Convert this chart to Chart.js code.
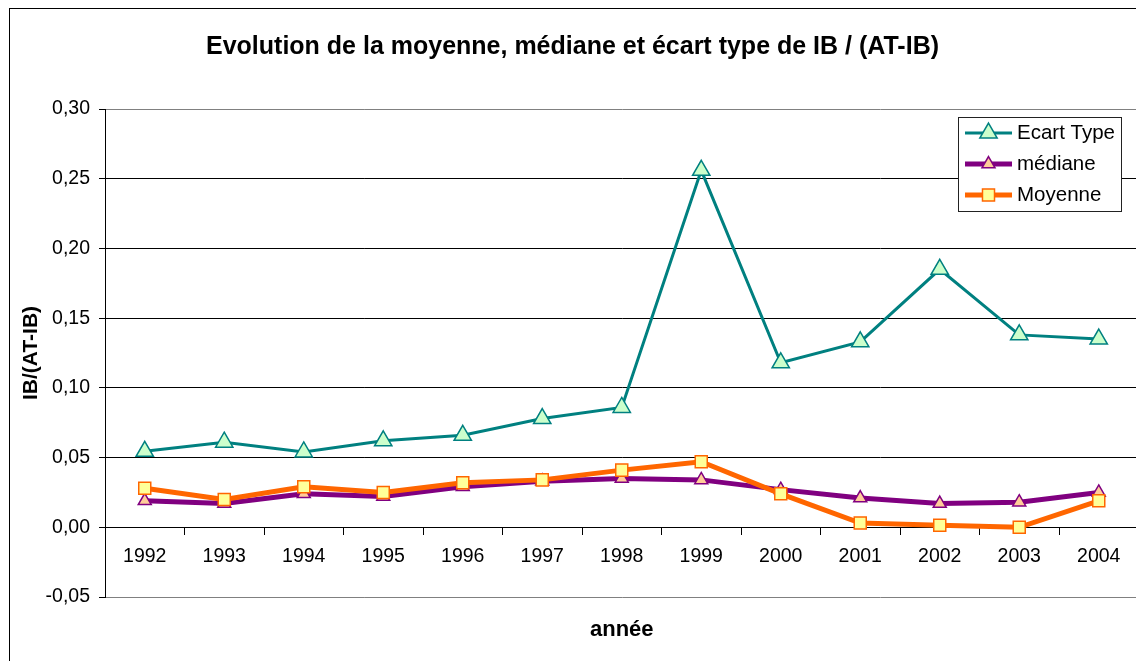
<!DOCTYPE html>
<html>
<head>
<meta charset="utf-8">
<script src="https://cdn.jsdelivr.net/npm/chart.js@4/dist/chart.umd.min.js"></script>
<style>
  html, body { margin: 0; padding: 0; background: #fff; overflow: hidden; }
  #wrap { position: absolute; left: 0; top: 0; width: 1150px; height: 661px; }
</style>
</head>
<body>
<div id="wrap"><canvas id="c" width="1150" height="661"></canvas></div>
<script>
const years = ['1992','1993','1994','1995','1996','1997','1998','1999','2000','2001','2002','2003','2004'];
const ecartType = [0.0545, 0.061, 0.054, 0.062, 0.066, 0.078, 0.086, 0.256, 0.118, 0.133, 0.185, 0.138, 0.135];
const mediane   = [0.019, 0.017, 0.024, 0.022, 0.029, 0.033, 0.035, 0.034, 0.027, 0.021, 0.017, 0.018, 0.025];
const moyenne   = [0.028, 0.020, 0.029, 0.025, 0.032, 0.034, 0.041, 0.047, 0.024, 0.003, 0.0015, 0.000, 0.019];
const seriesNames = ['Ecart Type', 'médiane', 'Moyenne'];
const titleText = 'Evolution de la moyenne, médiane et écart type de IB / (AT-IB)';
const yTitle = 'IB/(AT-IB)';
const xTitle = 'année';

const FONT = 'Arial, "Liberation Sans", Helvetica, sans-serif';

const framePlugin = {
  id: 'frame',
  beforeDraw(chart) {
    const ctx = chart.ctx;
    ctx.save();
    ctx.fillStyle = '#fff';
    ctx.fillRect(0, 0, chart.width, chart.height);
    ctx.strokeStyle = '#000';
    ctx.lineWidth = 1;
    ctx.strokeRect(9.5, 8.5, 3000, 3000);
    ctx.restore();
  }
};

function drawMarker(ctx, style, r, x, y) {
  if (style === 'triangle') {
    const a = 2 * Math.PI / 3;
    ctx.moveTo(x, y - r);
    ctx.lineTo(x + Math.sin(a) * r, y - Math.cos(a) * r);
    ctx.lineTo(x + Math.sin(2 * a) * r, y - Math.cos(2 * a) * r);
    ctx.closePath();
  } else {
    const s = r * Math.SQRT1_2;
    ctx.rect(x - s, y - s, 2 * s, 2 * s);
  }
}

const legendPlugin = {
  id: 'boxLegend',
  afterDraw(chart) {
    const ctx = chart.ctx;
    const x0 = 958, y0 = 117, w = 163, h = 94;
    ctx.save();
    ctx.fillStyle = '#fff';
    ctx.fillRect(x0, y0, w, h);
    ctx.strokeStyle = '#222';
    ctx.lineWidth = 1;
    ctx.strokeRect(x0 + 0.5, y0 + 0.5, w, h);
    const rows = [133, 164, 195];
    chart.data.datasets.forEach((ds, i) => {
      const y = rows[i];
      ctx.strokeStyle = ds.borderColor;
      ctx.lineWidth = ds.borderWidth;
      ctx.beginPath();
      ctx.moveTo(965, y);
      ctx.lineTo(1012, y);
      ctx.stroke();
      ctx.fillStyle = ds.pointBackgroundColor;
      ctx.strokeStyle = ds.pointBorderColor;
      ctx.lineWidth = ds.pointBorderWidth;
      ctx.beginPath();
      drawMarker(ctx, ds.pointStyle, ds.pointRadius, 988.5, y);
      ctx.fill();
      ctx.stroke();
      ctx.fillStyle = '#000';
      ctx.font = '20.5px ' + FONT;
      ctx.textBaseline = 'middle';
      ctx.textAlign = 'left';
      ctx.fillText(ds.label, 1017, y);
    });
    ctx.restore();
  }
};

new Chart(document.getElementById('c'), {
  type: 'line',
  data: {
    labels: years,
    datasets: [
      {
        label: seriesNames[0], data: ecartType, order: 2,
        borderColor: '#008080', borderWidth: 3,
        pointStyle: 'triangle', pointRadius: 10, pointHoverRadius: 10,
        pointBackgroundColor: '#CCFFCC', pointBorderColor: '#008080', pointBorderWidth: 1.5,
        tension: 0
      },
      {
        label: seriesNames[1], data: mediane, order: 1,
        borderColor: '#800080', borderWidth: 5,
        pointStyle: 'triangle', pointRadius: 7.5, pointHoverRadius: 7.5,
        pointBackgroundColor: '#FFCC99', pointBorderColor: '#800080', pointBorderWidth: 1.5,
        tension: 0
      },
      {
        label: seriesNames[2], data: moyenne, order: 0,
        borderColor: '#FF6600', borderWidth: 5,
        pointStyle: 'rect', pointRadius: 8.5, pointHoverRadius: 8.5,
        pointBackgroundColor: '#FFFF99', pointBorderColor: '#FF6600', pointBorderWidth: 1.5,
        tension: 0
      }
    ]
  },
  options: {
    responsive: false,
    animation: false,
    devicePixelRatio: 1,
    layout: { padding: { left: 0, right: 5, top: 0, bottom: 64 } },
    plugins: {
      legend: { display: false },
      tooltip: { enabled: false },
      title: {
        display: true,
        text: titleText,
        color: '#000',
        font: { family: FONT, size: 25, weight: 'bold', lineHeight: 1.2 },
        padding: { top: 32, bottom: 47 }
      }
    },
    scales: {
      x: {
        type: 'category',
        position: { y: 0 },
        offset: true,
        grid: {
          offset: true, drawOnChartArea: false, drawTicks: true,
          tickLength: 7, tickColor: '#000', tickWidth: 1
        },
        border: { display: true, color: '#000', width: 1 },
        ticks: { color: '#000', font: { family: FONT, size: 19.5 }, padding: 11, maxRotation: 0, autoSkip: false },
        title: {
          display: true, text: xTitle, color: '#000',
          font: { family: FONT, size: 22, weight: 'bold' },
          padding: { top: 37, bottom: 0 }
        }
      },
      y: {
        min: -0.05, max: 0.30,
        afterFit(scale) { scale.width = 105; },
        grid: {
          color: (c) => (c.tick && (Math.abs(c.tick.value - 0.3) < 1e-9 || Math.abs(c.tick.value + 0.05) < 1e-9)) ? '#808080' : '#000',
          lineWidth: 1, drawTicks: true, tickLength: 6, tickColor: '#000'
        },
        border: { display: true, color: '#000', width: 1 },
        ticks: {
          stepSize: 0.05, color: '#000', padding: 9,
          font: { family: FONT, size: 19.5 },
          callback: (v) => {
            const r = Math.round(v * 100) / 100;
            return (Math.abs(r) < 1e-9 ? 0 : r).toFixed(2).replace('.', ',');
          }
        },
        title: {
          display: true, text: yTitle, color: '#000',
          font: { family: FONT, size: 21, weight: 'bold' },
          padding: { top: 19, bottom: 0 }
        }
      }
    }
  },
  plugins: [framePlugin, legendPlugin]
});
</script>
</body>
</html>
